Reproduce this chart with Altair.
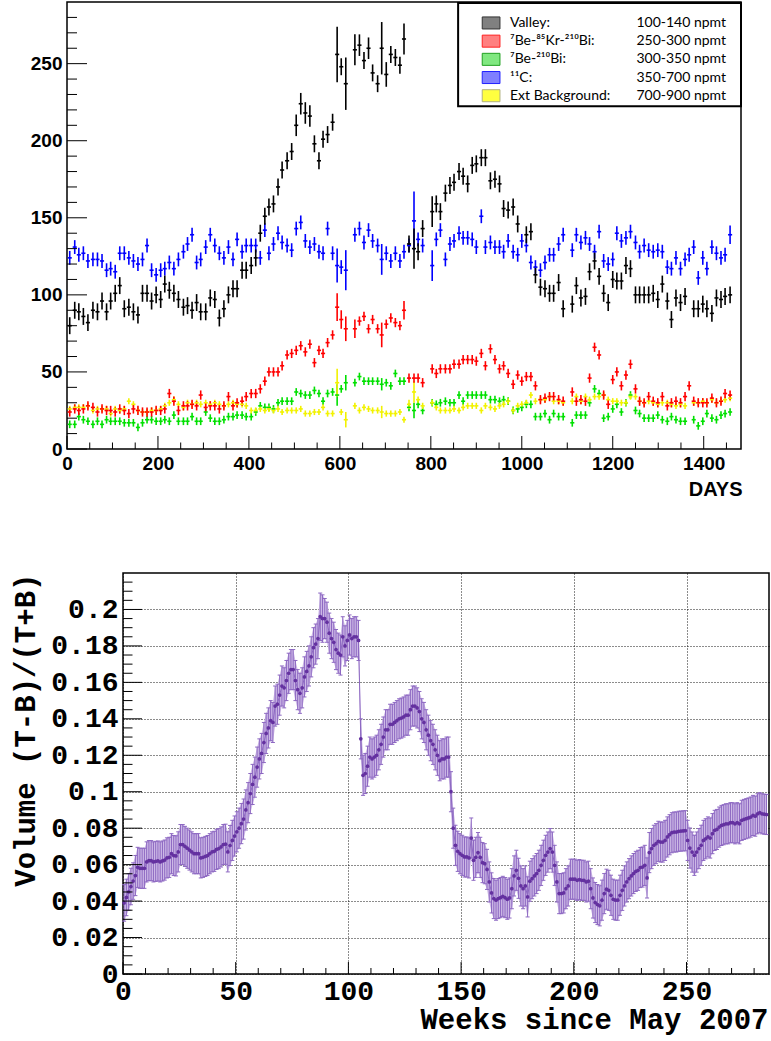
import altair as alt
import pandas as pd

# ---------------- top panel data (days vs rate) ----------------
days = [6, 17, 26, 36, 46, 57, 67, 77, 87, 96,
        106, 116, 126, 136, 146, 156, 166, 176, 186, 196,
        206, 215, 225, 235, 245, 256, 265, 275, 285, 294,
        305, 315, 325, 335, 345, 355, 365, 374, 385, 394,
        405, 415, 425, 435, 444, 454, 464, 473, 484, 494,
        504, 514, 524, 534, 544, 554, 563, 573, 584, 594,
        603, 613, 633, 643, 653, 663, 672, 683, 692, 702,
        712, 722, 732, 741, 752, 763, 772, 782, 803, 812,
        821, 832, 842, 851, 862, 871, 881, 891, 900, 911,
        920, 931, 941, 951, 960, 970, 981, 991, 1000, 1010,
        1020, 1030, 1041, 1051, 1061, 1070, 1081, 1091, 1111, 1120,
        1130, 1140, 1149, 1160, 1170, 1180, 1190, 1200, 1209, 1219,
        1229, 1239, 1250, 1259, 1269, 1279, 1289, 1299, 1309, 1320,
        1329, 1339, 1349, 1359, 1368, 1378, 1388, 1398, 1407, 1418,
        1428, 1438, 1447, 1458]

valley = [80, 90, 89, 86, 82, 90, 89, 96, 89, 96,
          101, 106, 91, 92, 89, 87, 101, 101, 96, 100,
          97, 107, 103, 101, 97, 92, 93, 90, 95, 89,
          89, 98, 97, 85, 91, 100, 104, 104, 116, 116,
          119, 124, 140, 151, 157, 159, 170, 181, 187, 193,
          210, 224, 218, 216, 198, 187, 201, 204, 212, 256,
          248, 237, 259, 262, 252, 260, 244, 237, 260, 243,
          256, 254, 249, 266, 133, 130, 128, 143, 154, 159,
          154, 166, 171, 173, 180, 177, 172, 184, 185, 189,
          189, 174, 175, 172, 156, 155, 157, 146, None, 139,
          141, 113, 105, 104, 101, 101, 108, 91, 94, 106,
          98, 99, 115, 122, 112, 101, 95, 110, 109, 109,
          119, 117, 100, 100, 100, 100, 101, 97, 107, 96,
          84, 98, 95, 99, None, 91, 91, 94, 91, 88,
          98, 97, 99, 100]

be_kr_bi = [24, 26, 25, 26, 28, 27, 24, 26, 25, 25,
            24, 26, 25, 23, 26, 25, 24, 24, 24, 25,
            25, 26, 36, 31, 25, 28, 28, 29, 28, 35,
            27, 28, 28, 26, 28, 34, 28, 30, 31, 34,
            36, 36, 39, 44, 50, 50, 50, 54, 61, 62,
            64, 67, 63, 68, 56, 64, 62, 69, 74, 92,
            84, 78, 78, 83, 86, 78, 84, 78, 74, 81,
            85, 82, 80, 90, 46, 46, 46, 43, 52, 49,
            52, 52, 52, 55, 55, 58, 58, 58, 57, 62,
            54, 65, 58, 52, 54, 49, 42, 48, 44, 47,
            47, 41, 32, 33, 34, 34, 32, 31, 37, 31,
            32, 31, 46, 66, 61, 35, 29, 45, 50, 41,
            48, 55, 39, 31, 30, 34, 31, 30, 34, 28,
            30, 31, 30, 34, 41, 31, 30, 30, 30, 33,
            30, 31, 36, 35]

be_bi = [16, 16, 21, 19, 18, 16, 18, 16, 19, 18,
         18, 18, 17, 17, 17, 14, 17, 19, 19, 18,
         18, 19, 18, 22, 18, 18, 18, 21, 18, 18,
         24, 20, 18, 18, 19, 21, 21, 22, 22, 21,
         21, 24, 28, 27, 27, 26, 30, 31, 31, 31,
         37, 36, 35, 35, 38, 36, 31, 36, 37, 35,
         39, 43, 43, 47, 44, 44, 44, 44, 42, 43,
         41, 49, 44, 44, 27, 25, 29, 25, 30, 29,
         30, 31, 30, 30, 35, 31, 35, 35, 35, 35,
         35, 32, 32, 31, 32, 31, 25, 26, 27, 29,
         29, 21, 21, 23, 19, 23, 21, 21, 17, 22,
         22, 22, 30, 39, 36, 20, 21, 26, 29, 24,
         30, 35, 25, 23, 20, 20, 20, 22, 19, 18,
         21, 19, 18, 18, None, 19, 15, 18, 23, 20,
         19, 22, 23, 24]

c11 = [124, 131, 126, 127, 122, 123, 123, 122, 116, 117,
       115, 127, 127, 124, 122, 120, 123, 132, 116, 113,
       116, 117, 121, 117, 123, 128, 133, 139, 121, 123,
       131, 139, 132, 127, 124, 131, 123, 136, 128, 132,
       132, 132, 124, 142, 127, 133, 140, 134, 132, 129,
       143, 147, 135, 131, 133, 128, 127, 143, 127, 119,
       118, 116, 139, 143, 134, 142, 135, 132, 123, 127,
       122, 127, 122, 128, 132, 148, 136, 132, 119, 136,
       142, 123, 133, 135, 140, 137, 137, 136, 131, 151,
       131, 134, 131, 131, 128, 135, 128, 126, 135, 132,
       121, 118, 116, 121, 126, 126, 133, 139, 129, 139,
       134, 137, 133, 128, 141, 122, 120, 123, 140, 135,
       137, 141, 134, 128, 132, 129, 128, 129, 128, 118,
       117, 124, 117, 123, 126, 131, 111, 124, 117, 131,
       127, 124, 126, 139]

ext_bg = [26, 27, 27, 27, 28, 25, 26, 26, 26, 23,
          26, 25, 26, 31, 29, 25, 24, 24, 25, 25,
          26, 28, 30, 32, 29, 27, 30, 29, 30, 29,
          30, 29, 30, 29, 28, 29, 30, 29, 29, 28,
          25, 25, 26, 25, 26, 25, 26, 24, 25, 25,
          25, 26, 23, 23, 24, 24, 27, 23, 23, 43,
          24, 19, 28, 25, 27, 26, 25, 25, 24, 23,
          23, 23, 24, 19, 29, 37, 32, 28, 30, 27,
          25, 25, 25, 26, 25, 27, 28, 28, 28, 25,
          28, 27, 26, 28, 29, 31, 25, 28, 29, 30,
          35, 31, 32, 32, 34, 31, 31, 30, 31, 34,
          31, 34, 32, 34, 34, 35, 32, 31, 31, 30,
          30, 34, 34, 31, 30, 31, 30, 29, 30, 30,
          29, 28, 29, 28, None, 30, 30, 31, 30, 32,
          30, 31, 32, 33]

# typical error of each series and the larger individual ones
err_base = {"valley": 5.5, "bekrbi": 3.0, "bebi": 2.5, "c11": 4.5, "ext": 2.0}
err_extra = {
    "valley": {594: 18, 613: 17, 692: 17, 741: 10, 633: 10, 763: 13, 803: 10,
               504: 7, 514: 7, 524: 7, 534: 7, 643: 7, 663: 7, 702: 8},
    "bekrbi": {594: 9, 613: 8, 692: 8, 741: 6, 603: 6, 633: 6},
    "bebi": {594: 7, 613: 5, 692: 4, 763: 5},
    "c11": {594: 11, 613: 13, 692: 10, 763: 19, 803: 10, 1458: 6},
    "ext": {594: 9, 613: 5, 692: 4, 763: 7, 752: 3},
}

legend_names = ["Valley:", "⁷Be-⁸⁵Kr-²¹⁰Bi:", "⁷Be-²¹⁰Bi:", "¹¹C:", "Ext Background:"]
legend_ranges = ["100-140 npmt", "250-300 npmt", "300-350 npmt", "350-700 npmt", "700-900 npmt"]

# ---------------- bottom panel data (weekly asymmetry) ----------------
asym = [0.039, 0.042, 0.045, 0.048, 0.051, 0.054, 0.0585, 0.058, 0.058, 0.058,
        0.0615, 0.0622, 0.0622, 0.0615, 0.0618, 0.062, 0.0615, 0.062, 0.0625, 0.0637,
        0.064, 0.066, 0.065, 0.0648, 0.067, 0.071, 0.071, 0.070, 0.069, 0.068,
        0.067, 0.066, 0.066, 0.066, 0.0637, 0.064, 0.0645, 0.065, 0.066, 0.067,
        0.0673, 0.0684, 0.0688, 0.0697, 0.071, 0.0712, 0.067, 0.0705, 0.0733, 0.0757,
        0.078, 0.080, 0.0825, 0.085, 0.090, 0.094, 0.099, 0.104, 0.108, 0.1135,
        0.118, 0.121, 0.127, 0.132, 0.135, 0.139, 0.138, 0.147, 0.148, 0.153,
        0.158, 0.157, 0.161, 0.165, 0.167, 0.167, 0.161, 0.156, 0.154, 0.157,
        0.163, 0.166, 0.169, 0.174, 0.179, 0.181, 0.184, 0.196, 0.195, 0.195,
        0.193, 0.187, 0.184, 0.182, 0.178, 0.176, 0.175, 0.185, 0.180, 0.183,
        0.186, 0.184, 0.185, 0.185, 0.183, 0.129, 0.109, 0.110, 0.114, 0.119,
        0.118, 0.119, 0.120, 0.123, 0.126, 0.130, 0.134, 0.134, 0.137, 0.137,
        0.138, 0.139, 0.140, 0.1404, 0.141, 0.142, 0.142, 0.145, 0.147, 0.147,
        0.146, 0.144, 0.140, 0.138, 0.134, 0.131, 0.128, 0.126, 0.123, 0.120,
        0.117, 0.118, 0.118, 0.119, 0.119, 0.100, 0.080, 0.0706, 0.0673, 0.066,
        0.0651, 0.0642, 0.0642, 0.0637, 0.0746, 0.0624, 0.064, 0.0666, 0.064, 0.0611,
        0.0605, 0.0574, 0.0505, 0.0445, 0.0414, 0.0405, 0.0414, 0.0419, 0.0426, 0.0419,
        0.041, 0.0417, 0.0468, 0.0538, 0.0569, 0.0525, 0.0483, 0.0468, 0.0483, 0.0423,
        0.0509, 0.0523, 0.0538, 0.0551, 0.0569, 0.0596, 0.0624, 0.0651, 0.0669, 0.0688,
        0.0669, 0.0596, 0.0505, 0.0441, 0.0441, 0.0445, 0.0468, 0.0483, 0.052, 0.052,
        0.052, 0.0514, 0.0518, 0.0514, 0.0514, 0.0505, 0.0509, 0.0468, 0.0417, 0.0392,
        0.0381, 0.0374, 0.0405, 0.0441, 0.0465, 0.0459, 0.0432, 0.041, 0.0405, 0.0405,
        0.0432, 0.0459, 0.0483, 0.0505, 0.0523, 0.0538, 0.0551, 0.0563, 0.0569, 0.0584,
        0.0587, 0.0596, 0.0527, 0.0666, 0.0688, 0.0706, 0.0715, 0.0728, 0.0724, 0.0724,
        0.0733, 0.0752, 0.0764, 0.0775, 0.0779, 0.0779, 0.0783, 0.0784, 0.0785, 0.0786,
        0.0733, 0.0691, 0.0669, 0.0651, 0.0669, 0.0688, 0.0706, 0.0733, 0.0742, 0.0752,
        0.0746, 0.077, 0.0788, 0.0793, 0.0806, 0.0815, 0.0819, 0.0824, 0.0824, 0.083,
        0.083, 0.0824, 0.083, 0.0824, 0.0843, 0.0848, 0.0852, 0.0856, 0.0861, 0.087,
        0.0866, 0.0879, 0.0885, 0.0879, 0.0877, 0.0875]
asym_err_base = 0.011
asym_err_extra = {0: 0.01, 1: 0.01, 2: 0.01, 3: 0.01, 4: 0.01, 87: 0.013, 88: 0.013}

# ---------------- build tables ----------------
series = [("c11", "11C", c11, "#0000ff"),
          ("bebi", "7Be-210Bi", be_bi, "#00e000"),
          ("ext", "Ext", ext_bg, "#f2f200"),
          ("bekrbi", "7Be-85Kr-210Bi", be_kr_bi, "#ff0000"),
          ("valley", "Valley", valley, "#000000")]
rows = []
for key, label, vals, col in series:
    for d, v in zip(days, vals):
        if v is None:
            continue
        e = err_extra[key].get(d, err_base[key])
        rows.append(dict(series=label, day=d, val=v, lo=v - e, hi=v + e,
                         dlo=d - 4.5, dhi=d + 4.5))
top_df = pd.DataFrame(rows)

wrows = []
for i, v in enumerate(asym):
    e = asym_err_extra.get(i, asym_err_base)
    w = i + 0.5
    wrows.append(dict(week=w, val=v, lo=v - e, hi=v + e, wlo=w - 0.9, whi=w + 0.9))
bot_df = pd.DataFrame(wrows)

# ---------------- top panel ----------------
W1, H1 = 674, 447
xs1 = alt.Scale(domain=[0, 1482], nice=False, zero=False)
ys1 = alt.Scale(domain=[0, 290], nice=False, zero=False)
color = alt.Color("series:N",
                  scale=alt.Scale(domain=[s[1] for s in series], range=[s[3] for s in series]),
                  legend=None)

xaxis1 = alt.Axis(values=list(range(0, 1401, 200)), format="d", title="DAYS", grid=False,
                  ticks=False, tickSize=0, domain=False, labelFlush=False, labelOverlap=False,
                  labelFont="Liberation Sans", labelFontWeight="bold", labelFontSize=19,
                  labelColor="black", labelPadding=5,
                  titleFont="Liberation Sans", titleFontWeight="bold", titleFontSize=20,
                  titleColor="black", titleAlign="right", titleBaseline="top",
                  titleX=W1 + 1, titleY=30)
yaxis1 = alt.Axis(values=list(range(0, 251, 50)), format="d", title=None,
                  grid=False, ticks=False, tickSize=0, domain=False,
                  labelFont="Liberation Sans", labelFontWeight="bold", labelFontSize=19,
                  labelColor="black", labelPadding=5, labelOverlap=False)


def X1(f):
    return alt.X(f, scale=xs1, axis=xaxis1)


def Y1(f):
    return alt.Y(f, scale=ys1, axis=yaxis1)


vbars = alt.Chart(top_df).mark_rule(strokeWidth=1.6).encode(
    x=X1("day:Q"), y=Y1("lo:Q"), y2="hi:Q", color=color)
hbars = alt.Chart(top_df).mark_rule(strokeWidth=1.6).encode(
    x=X1("dlo:Q"), x2="dhi:Q", y=Y1("val:Q"), color=color)

ymaj1 = list(range(0, 251, 50))
ymin1 = [v for v in range(10, 290, 10) if v % 50]
xmaj1 = list(range(0, 1401, 200))
xmin1 = [v for v in range(50, 1481, 50) if v % 200]


def yticks(vals, Yf, length):
    return alt.Chart(pd.DataFrame({"t": vals})).mark_rule(color="black", strokeWidth=1).encode(
        y=Yf("t:Q"), x=alt.value(0), x2=alt.value(length))


def xticks(vals, Xf, h, length):
    return alt.Chart(pd.DataFrame({"t": vals})).mark_rule(color="black", strokeWidth=1).encode(
        x=Xf("t:Q"), y=alt.value(h), y2=alt.value(h - length))


# legend (placed in data coordinates of the top panel)
leg_top, leg_step = 276.4, 11.8
leg_df = pd.DataFrame({
    "name": legend_names,
    "rng": legend_ranges,
    "fill": ["#808080", "#ff8080", "#80e880", "#8080ff", "#ffff40"],
    "edge": ["#333333", "#ff2020", "#20a020", "#2020ff", "#b0b080"],
})
leg_df["yc"] = [leg_top - i * leg_step for i in range(len(leg_df))]
leg_df["y0"] = leg_df["yc"] - 3.9
leg_df["y1"] = leg_df["yc"] + 3.9
leg_df["x0"] = 913
leg_df["x1"] = 952
leg_df["xn"] = 974
leg_df["xr"] = 1252
box_df = pd.DataFrame({"x0": [860], "x1": [1482], "y0": [222.3], "y1": [289.3]})

leg_box = alt.Chart(box_df).mark_rect(fill="white", stroke="black", strokeWidth=2).encode(
    x=X1("x0:Q"), x2="x1:Q", y=Y1("y0:Q"), y2="y1:Q")
leg_sq = alt.Chart(leg_df).mark_rect(strokeWidth=1).encode(
    x=X1("x0:Q"), x2="x1:Q", y=Y1("y0:Q"), y2="y1:Q",
    fill=alt.Fill("fill:N", scale=None), stroke=alt.Stroke("edge:N", scale=None))
leg_name = alt.Chart(leg_df).mark_text(align="left", baseline="middle", font="Lato",
                                       fontSize=14, color="black").encode(
    x=X1("xn:Q"), y=Y1("yc:Q"), text="name:N")
leg_rng = alt.Chart(leg_df).mark_text(align="left", baseline="middle", font="Lato",
                                      fontSize=14, color="black").encode(
    x=X1("xr:Q"), y=Y1("yc:Q"), text="rng:N")

top = alt.layer(
    vbars, hbars,
    yticks(ymaj1, Y1, 20), yticks(ymin1, Y1, 10),
    xticks(xmaj1, X1, H1, 13), xticks(xmin1, X1, H1, 6.5),
    leg_box, leg_sq, leg_name, leg_rng,
).properties(width=W1, height=H1)

# ---------------- bottom panel ----------------
W2, H2 = 646, 401
xs2 = alt.Scale(domain=[0, 286.6], nice=False, zero=False)
ys2 = alt.Scale(domain=[0, 0.22], nice=False, zero=False)
mono = "Liberation Mono"
xaxis2 = alt.Axis(values=list(range(0, 251, 50)), format="d", title="Weeks since May 2007",
                  grid=True, gridColor="black", gridDash=[1, 2], gridWidth=1, gridOpacity=0.9,
                  ticks=False, tickSize=0, domain=False, labelFlush=False, labelOverlap=False,
                  labelFont=mono, labelFontWeight="bold", labelFontSize=28, labelColor="black",
                  labelPadding=3, titleFont=mono, titleFontWeight="bold", titleFontSize=29,
                  titleColor="black", titleAlign="right", titleBaseline="top",
                  titleX=W2 - 1, titleY=31)
yaxis2 = alt.Axis(values=[0, 0.02, 0.04, 0.06, 0.08, 0.1, 0.12, 0.14, 0.16, 0.18, 0.2],
                  format=".2~f", title="Volume (T-B)/(T+B)",
                  grid=True, gridColor="black", gridDash=[1, 2], gridWidth=1, gridOpacity=0.9,
                  ticks=False, tickSize=0, domain=False, labelOverlap=False,
                  labelFont=mono, labelFontWeight="bold", labelFontSize=28, labelColor="black",
                  labelPadding=5, titleFont=mono, titleFontWeight="bold", titleFontSize=29,
                  titleColor="black", titleAngle=270, titleAlign="right",
                  titleBaseline="middle", titleX=-98, titleY=0)


def X2(f):
    return alt.X(f, scale=xs2, axis=xaxis2)


def Y2(f):
    return alt.Y(f, scale=ys2, axis=yaxis2)


band = alt.Chart(bot_df).mark_area(color="#cdb9e6", opacity=1).encode(
    x=X2("week:Q"), y=Y2("lo:Q"), y2="hi:Q")
ebars = alt.Chart(bot_df).mark_rule(color="#8d68c2", strokeWidth=1).encode(
    x=X2("week:Q"), y=Y2("lo:Q"), y2="hi:Q")
cap_hi = alt.Chart(bot_df).mark_rule(color="#8d68c2", strokeWidth=1).encode(
    x=X2("wlo:Q"), x2="whi:Q", y=Y2("hi:Q"))
cap_lo = alt.Chart(bot_df).mark_rule(color="#8d68c2", strokeWidth=1).encode(
    x=X2("wlo:Q"), x2="whi:Q", y=Y2("lo:Q"))
line = alt.Chart(bot_df).mark_line(color="#8d68c2", strokeWidth=1).encode(
    x=X2("week:Q"), y=Y2("val:Q"))
pts = alt.Chart(bot_df).mark_circle(color="#6431a0", size=14, opacity=1).encode(
    x=X2("week:Q"), y=Y2("val:Q"))

ymaj2 = [0, 0.02, 0.04, 0.06, 0.08, 0.1, 0.12, 0.14, 0.16, 0.18, 0.2]
ymin2 = [round(k * 0.005, 3) for k in range(1, 44) if k % 4]
xmaj2 = list(range(0, 251, 50))
xmin2 = [v for v in range(10, 286, 10) if v % 50]

bottom = alt.layer(
    band, ebars, cap_hi, cap_lo, line, pts,
    yticks(ymaj2, Y2, 19), yticks(ymin2, Y2, 9.5),
    xticks(xmaj2, X2, H2, 12), xticks(xmin2, X2, H2, 6),
).properties(width=W2, height=H2)

# an empty 1-pixel view that shifts the lower panel right of the upper one
spacer = alt.Chart(pd.DataFrame({"a": [0]})).mark_rule(strokeOpacity=0).encode(
    x=alt.value(0), y=alt.value(0), y2=alt.value(1)
).properties(width=1, height=1, view=alt.ViewBackground(strokeOpacity=0))

lower = alt.hconcat(spacer, bottom, spacing=-58)

chart = alt.vconcat(top, lower, spacing=72).properties(
    padding={"left": 10, "top": 1, "right": 0, "bottom": 4},
    background="white",
).configure_view(stroke="black", strokeWidth=1.5)

chart.save("out.html", embed_options={"renderer": "svg", "actions": False})
